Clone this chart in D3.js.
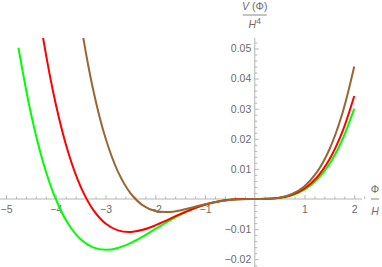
<!DOCTYPE html>
<html>
<head>
<meta charset="utf-8">
<script src="https://cdn.jsdelivr.net/npm/d3@7"></script>
<style>
  body { margin: 0; background: #fff; }
  svg { display: block; font-family: "Liberation Sans", Arial, sans-serif; }
  .tick text { fill: #6b6b6b; font-size: 10.5px; }
  .tick line { stroke: #b5b5b5; }
</style>
</head>
<body>
<svg id="chart" width="382" height="267"></svg>
<script>
(function() {
  // values, one entry per phi
  var phi = [-4.75, -4.5, -4.25, -4.0, -3.75, -3.5, -3.25, -3.0, -2.75, -2.5, -2.25, -2.0, -1.75, -1.5,
             -1.25, -1.0, -0.75, -0.5, -0.25, 0, 0.25, 0.5, 0.75, 1.0, 1.25, 1.5, 1.75, 2.0];

  var greenV = [0.05024, 0.02848, 0.01199, 0, -0.00824, -0.0134, -0.01609, -0.016875, -0.01625, -0.01465,
                -0.01246, -0.01, -0.00754, -0.00527, -0.00336, -0.001875, -0.000857, -0.000273, -0.0000366, 0,
                0.0000415, 0.000352, 0.001252, 0.003125, 0.006409, 0.0116, 0.01926, 0.030];

  var redV = [null, 0.08114, 0.0531, 0.03155, 0.01551, 0.00409, -0.00355, -0.00816, -0.01042, -0.01093,
              -0.01023, -0.00878, -0.00694, -0.00504, -0.00331, -0.00189, -0.000882, -0.000286, -0.0000389, 0,
              0.0000451, 0.000386, 0.001385, 0.003482, 0.007189, 0.01309, 0.02186, 0.03422];

  var brownV = [null, null, null, null, 0.089, 0.05895, 0.03647, 0.02025, 0.0091, 0.00195,
                -0.00214, -0.004, -0.00435, -0.0038, -0.00281, -0.00175, -0.00087, -0.000297, -0.000042, 0,
                0.0000518, 0.000453, 0.001661, 0.00425, 0.00891, 0.01645, 0.0278, 0.044];

  var xTickLabels = [-5, -4, -3, -2, -1, 1, 2];
  var yTickLabels = [-0.02, -0.01, 0.01, 0.02, 0.03, 0.04, 0.05];

  var svg, x, y, clip, line, minorX, minorY, xAxisG, yAxisG, drawSeries;

  svg = d3.select('#chart');

  x = d3.scaleLinear().domain([-5, 2]).range([6, 354.25]);
  y = d3.scaleLinear().domain([-0.02, 0.05]).range([259.2, 48.5]);

  minorX = d3.range(-5, 2.21, 0.2).filter(function(d) {
    return Math.abs(d - Math.round(d)) > 0.01;
  });
  minorY = d3.range(-0.022, 0.0535, 0.002).filter(function(d) {
    return Math.abs(d * 100 - Math.round(d * 100)) > 0.01;
  });

  // ---- x axis ----
  xAxisG = svg.append('g').attr('transform', 'translate(0,' + y(0) + ')');
  xAxisG.append('line')
    .attr('x1', 0).attr('x2', 362).attr('y1', 0).attr('y2', 0)
    .attr('stroke', '#b5b5b5').attr('stroke-width', 1);
  xAxisG.append('g')
    .call(d3.axisBottom(x).tickValues(minorX).tickSizeInner(-2.5).tickSizeOuter(0).tickFormat(''))
    .call(function(g) { g.select('.domain').remove(); });
  xAxisG.append('g')
    .call(d3.axisBottom(x).tickValues(xTickLabels).tickSizeInner(-4).tickSizeOuter(0).tickPadding(6.5)
      .tickFormat(d3.format('d')))
    .call(function(g) { g.select('.domain').remove(); });

  // ---- y axis ----
  yAxisG = svg.append('g').attr('transform', 'translate(' + x(0) + ',0)');
  yAxisG.append('line')
    .attr('x1', 0).attr('x2', 0).attr('y1', 38).attr('y2', 267)
    .attr('stroke', '#b5b5b5').attr('stroke-width', 1);
  yAxisG.append('g')
    .call(d3.axisLeft(y).tickValues(minorY).tickSizeInner(-2.5).tickSizeOuter(0).tickFormat(''))
    .call(function(g) { g.select('.domain').remove(); });
  yAxisG.append('g')
    .call(d3.axisLeft(y).tickValues(yTickLabels).tickSizeInner(-4).tickSizeOuter(0).tickPadding(3.5)
      .tickFormat(d3.format('.2f')))
    .call(function(g) { g.select('.domain').remove(); });

  // ---- axis titles (fractions) ----
  var yTitle = svg.append('g').attr('transform', 'translate(' + x(0) + ',0)')
    .attr('fill', '#6b6b6b').attr('font-size', '10.5px').attr('text-anchor', 'middle');
  var num = yTitle.append('text').attr('x', 0).attr('y', 9.5);
  num.append('tspan').attr('font-style', 'italic').text('V');
  num.append('tspan').text(' (\u03A6)');
  yTitle.append('line').attr('x1', -12).attr('x2', 12).attr('y1', 15).attr('y2', 15)
    .attr('stroke', '#6b6b6b').attr('stroke-width', 0.8);
  var den = yTitle.append('text').attr('x', 0).attr('y', 28);
  den.append('tspan').attr('font-style', 'italic').text('H');
  den.append('tspan').attr('font-size', '8.5px').attr('dy', -4).text('4');

  var xTitle = svg.append('g').attr('transform', 'translate(375,0)')
    .attr('fill', '#6b6b6b').attr('font-size', '10.5px').attr('text-anchor', 'middle');
  xTitle.append('text').attr('x', 0).attr('y', 193).text('\u03A6');
  xTitle.append('line').attr('x1', -4).attr('x2', 4).attr('y1', y(0)).attr('y2', y(0))
    .attr('stroke', '#6b6b6b').attr('stroke-width', 0.8);
  xTitle.append('text').attr('x', 0).attr('y', 215).attr('font-style', 'italic').text('H');

  // ---- curves ----
  clip = svg.append('clipPath').attr('id', 'plotClip');
  clip.append('rect').attr('x', 0).attr('y', 38).attr('width', 382).attr('height', 229);

  line = d3.line()
    .defined(function(d) { return d[1] !== null; })
    .x(function(d) { return x(d[0]); })
    .y(function(d) { return y(d[1]); })
    .curve(d3.curveCatmullRom.alpha(0.5));

  drawSeries = function(values, color) {
    var pts = phi.map(function(p, i) { return [p, values[i]]; });
    svg.append('path')
      .datum(pts)
      .attr('clip-path', 'url(#plotClip)')
      .attr('fill', 'none')
      .attr('stroke', color)
      .attr('stroke-width', 2)
      .attr('stroke-linejoin', 'round')
      .attr('d', line);
  };

  drawSeries(greenV, '#00ff00');
  drawSeries(redV, '#ff0000');
  drawSeries(brownV, '#996633');
}).call(this);
</script>
</body>
</html>
